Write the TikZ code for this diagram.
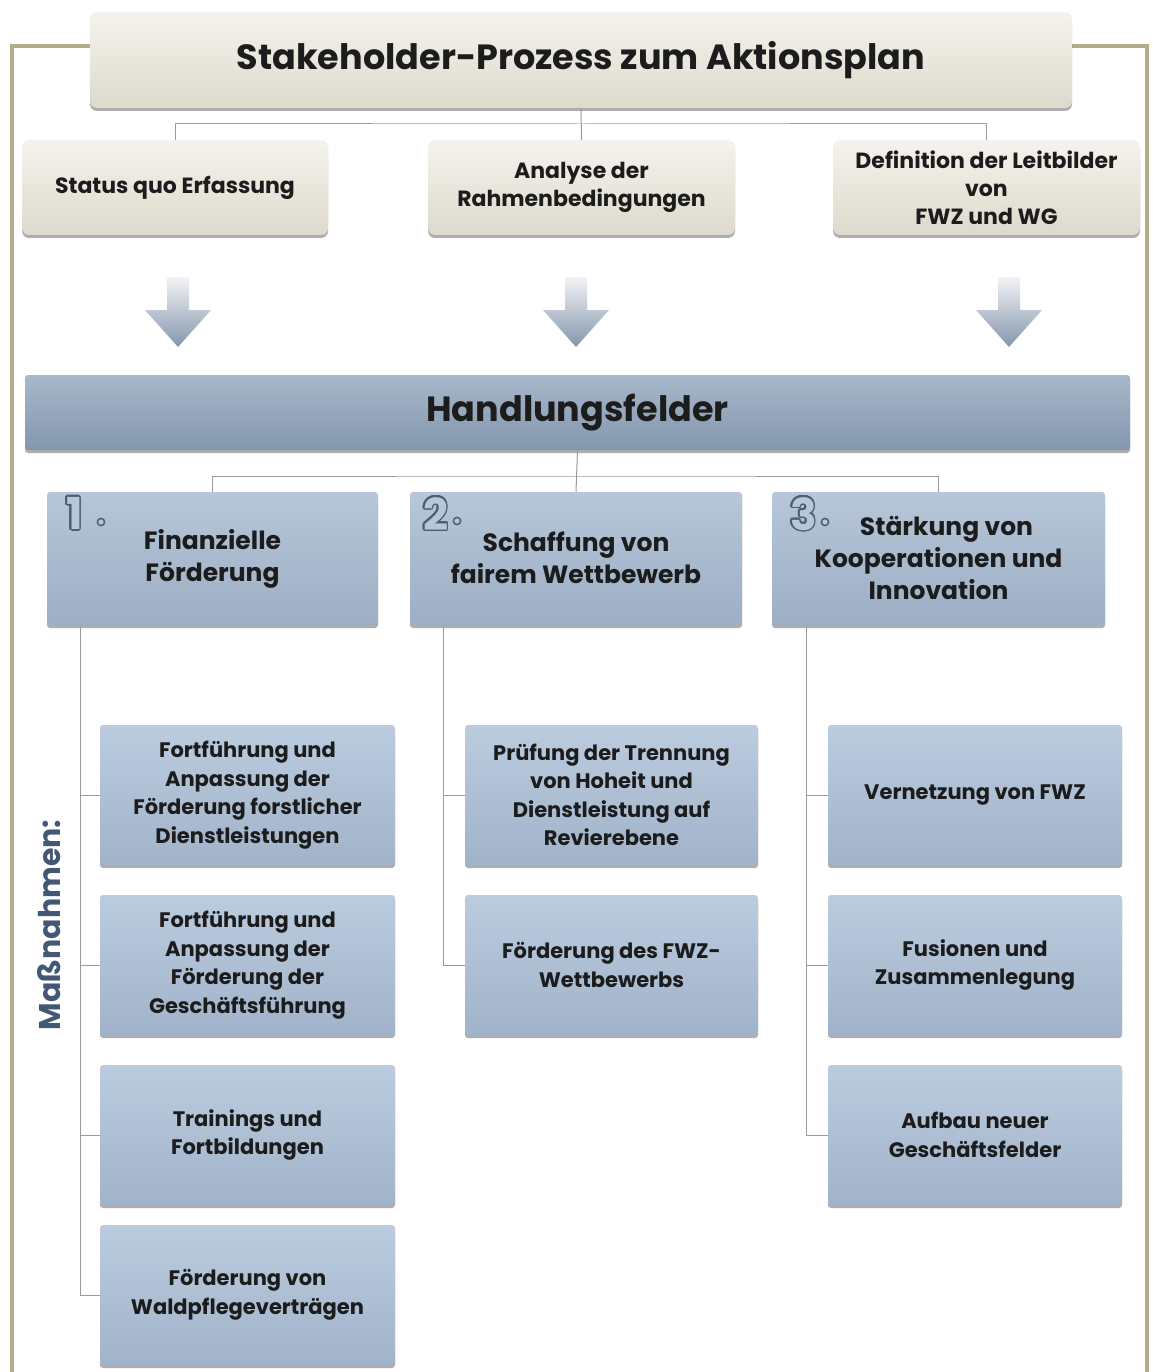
\documentclass[tikz,border=0pt]{standalone}
\usepackage{fontspec}
\setmainfont{Poppins}
\usepackage{contour}
\contourlength{1.7pt}
\usetikzlibrary{shadows}
\definecolor{framecol}{HTML}{B3AC88}
\definecolor{beigetop}{HTML}{F5F3ED}
\definecolor{beigebot}{HTML}{DDD9CD}
\definecolor{bartop}{HTML}{A9B8CB}
\definecolor{barbot}{HTML}{8396AD}
\definecolor{cattop}{HTML}{B7C6D8}
\definecolor{catbot}{HTML}{9DAFC5}
\definecolor{mtop}{HTML}{BCCCDF}
\definecolor{mbot}{HTML}{A1B3CA}
\definecolor{linecol}{HTML}{9A9A9A}
\definecolor{numcol}{HTML}{4E5D72}
\definecolor{massn}{HTML}{435874}
\definecolor{arrtop}{HTML}{F2F3F5}
\definecolor{arrbot}{HTML}{8496AD}
\definecolor{txt}{HTML}{1C1C1C}
\tikzset{
  softshadow/.style={drop shadow={shadow xshift=0pt, shadow yshift=-3pt, opacity=0.45, fill=black!70}},
  beigebox/.style={rounded corners=7pt, top color=beigetop, bottom color=beigebot, draw=none, softshadow, align=center, text=txt, font=\bfseries\fontsize{22}{28}\selectfont, inner sep=0pt},
  barbox/.style={rounded corners=3pt, top color=bartop, bottom color=barbot, draw=none, softshadow, align=center, text=txt, inner sep=0pt},
  catbox/.style={rounded corners=3pt, top color=cattop, bottom color=catbot, draw=none, softshadow, align=center, text=txt, font=\bfseries\fontsize{25}{32}\selectfont, inner sep=0pt, minimum height=133pt},
  mbox/.style={rounded corners=3pt, top color=mtop, bottom color=mbot, draw=none, softshadow, align=center, text=txt, font=\bfseries\fontsize{21}{28.5}\selectfont, inner sep=0pt, minimum height=140pt},
  conn/.style={draw=linecol, line width=1pt},
  numlabel/.style={font=\bfseries\fontsize{44}{44}\selectfont, inner sep=0pt, anchor=north west},
  arrowshape/.style={top color=arrtop, bottom color=arrbot, draw=none}
}
\newcommand{\outnum}[1]{\contour{numcol}{\textcolor{cattop}{#1}}}
\begin{document}
\begin{tikzpicture}[x=1pt,y=-1pt]
\useasboundingbox (0,0) rectangle (1152,1372);
\fill[white] (0,0) rectangle (1152,1372);
% frame
\draw[framecol, line width=4.5pt] (95,46) -- (12,46) -- (12,1380);
\draw[framecol, line width=4.5pt] (1065,46) -- (1147,46) -- (1147,1380);
% title
\node[beigebox, minimum width=982pt, minimum height=96pt, font=\bfseries\fontsize{35}{40}\selectfont] (title) at (581,60) {Stakeholder-Prozess zum Aktionsplan};
% stage boxes
\node[beigebox, minimum width=306pt, minimum height=95pt] (status) at (175,187.5) {Status quo Erfassung};
\node[beigebox, minimum width=307pt, minimum height=95pt] (analyse) at (581.5,187.5) {Analyse der\\Rahmenbedingungen};
\node[beigebox, minimum width=307pt, minimum height=95pt] (defin) at (986.5,187.5) {Definition der Leitbilder\\von\\FWZ und WG};
% top connectors
\coordinate (tj) at (581,124);
\draw[conn] (title.south) -- (analyse.north);
\draw[conn] (status.north) |- (tj) -| (defin.north);
% arrows
\foreach \cx in {178,576,1009}{
  \path[arrowshape] (\cx-11,277) -- (\cx+11,277) -- (\cx+11,310) -- (\cx+33,310) -- (\cx,347) -- (\cx-33,310) -- (\cx-11,310) -- cycle;
}
% Handlungsfelder bar
\node[barbox, minimum width=1105pt, minimum height=75pt, font=\bfseries\fontsize{35}{40}\selectfont] (hf) at (577.5,412.5) {Handlungsfelder};
% category boxes
\node[catbox, minimum width=331pt] (c1) at (212.5,558.5) {Finanzielle\\Förderung};
\node[catbox, minimum width=332pt] (c2) at (576,558.5) {\\[-14pt]Schaffung von\\fairem Wettbewerb};
\node[catbox, minimum width=333pt] (c3) at (938.5,558.5) {\hspace*{16pt}Stärkung von\\Kooperationen und\\Innovation};
\node[numlabel] (n1) at (66,497) {\outnum{1}};
\node[numlabel] (n2) at (423,497) {\outnum{2}};
\node[numlabel] (n3) at (790,497) {\outnum{3}};
\fill[cattop, draw=numcol, line width=1.5pt] (101,522) circle (3.6pt);
\fill[cattop, draw=numcol, line width=1.5pt] (457,521) circle (3.6pt);
\fill[cattop, draw=numcol, line width=1.5pt] (825,522) circle (3.6pt);
% mid connectors
\coordinate (hj) at (577,476);
\draw[conn] (hf.south) -- (c2.north);
\draw[conn] (c1.north) |- (hj) -| (c3.north);
% Massnahmen boxes
\node[mbox, minimum width=295pt] (m11) at (247.5,795) {Fortführung und\\Anpassung der\\Förderung forstlicher\\Dienstleistungen};
\node[mbox, minimum width=295pt] (m12) at (247.5,965) {Fortführung und\\Anpassung der\\Förderung der\\Geschäftsführung};
\node[mbox, minimum width=295pt] (m13) at (247.5,1135) {Trainings und\\Fortbildungen};
\node[mbox, minimum width=295pt] (m14) at (247.5,1295) {Förderung von\\Waldpflegeverträgen};
\node[mbox, minimum width=293pt] (m21) at (611.5,795) {Prüfung der Trennung\\von Hoheit und\\Dienstleistung auf\\Revierebene};
\node[mbox, minimum width=293pt] (m22) at (611.5,965) {Förderung des FWZ-\\Wettbewerbs};
\node[mbox, minimum width=294pt] (m31) at (975,795) {Vernetzung von FWZ};
\node[mbox, minimum width=294pt] (m32) at (975,965) {Fusionen und\\Zusammenlegung};
\node[mbox, minimum width=294pt] (m33) at (975,1135) {Aufbau neuer\\Geschäftsfelder};
% tree connectors
\coordinate (t1) at (80,625);
\coordinate (t2) at (443,625);
\coordinate (t3) at (806,625);
\draw[conn] (t1) |- (m14.west);
\draw[conn] (t1 |- m11.west) -- (m11.west);
\draw[conn] (t1 |- m12.west) -- (m12.west);
\draw[conn] (t1 |- m13.west) -- (m13.west);
\draw[conn] (t2) |- (m22.west);
\draw[conn] (t2 |- m21.west) -- (m21.west);
\draw[conn] (t3) |- (m33.west);
\draw[conn] (t3 |- m31.west) -- (m31.west);
\draw[conn] (t3 |- m32.west) -- (m32.west);
% Massnahmen label
\node[rotate=90, text=massn, font=\bfseries\fontsize{30}{30}\selectfont, inner sep=0pt] (ml) at (49,925) {Maßnahmen:};
\end{tikzpicture}
\end{document}
